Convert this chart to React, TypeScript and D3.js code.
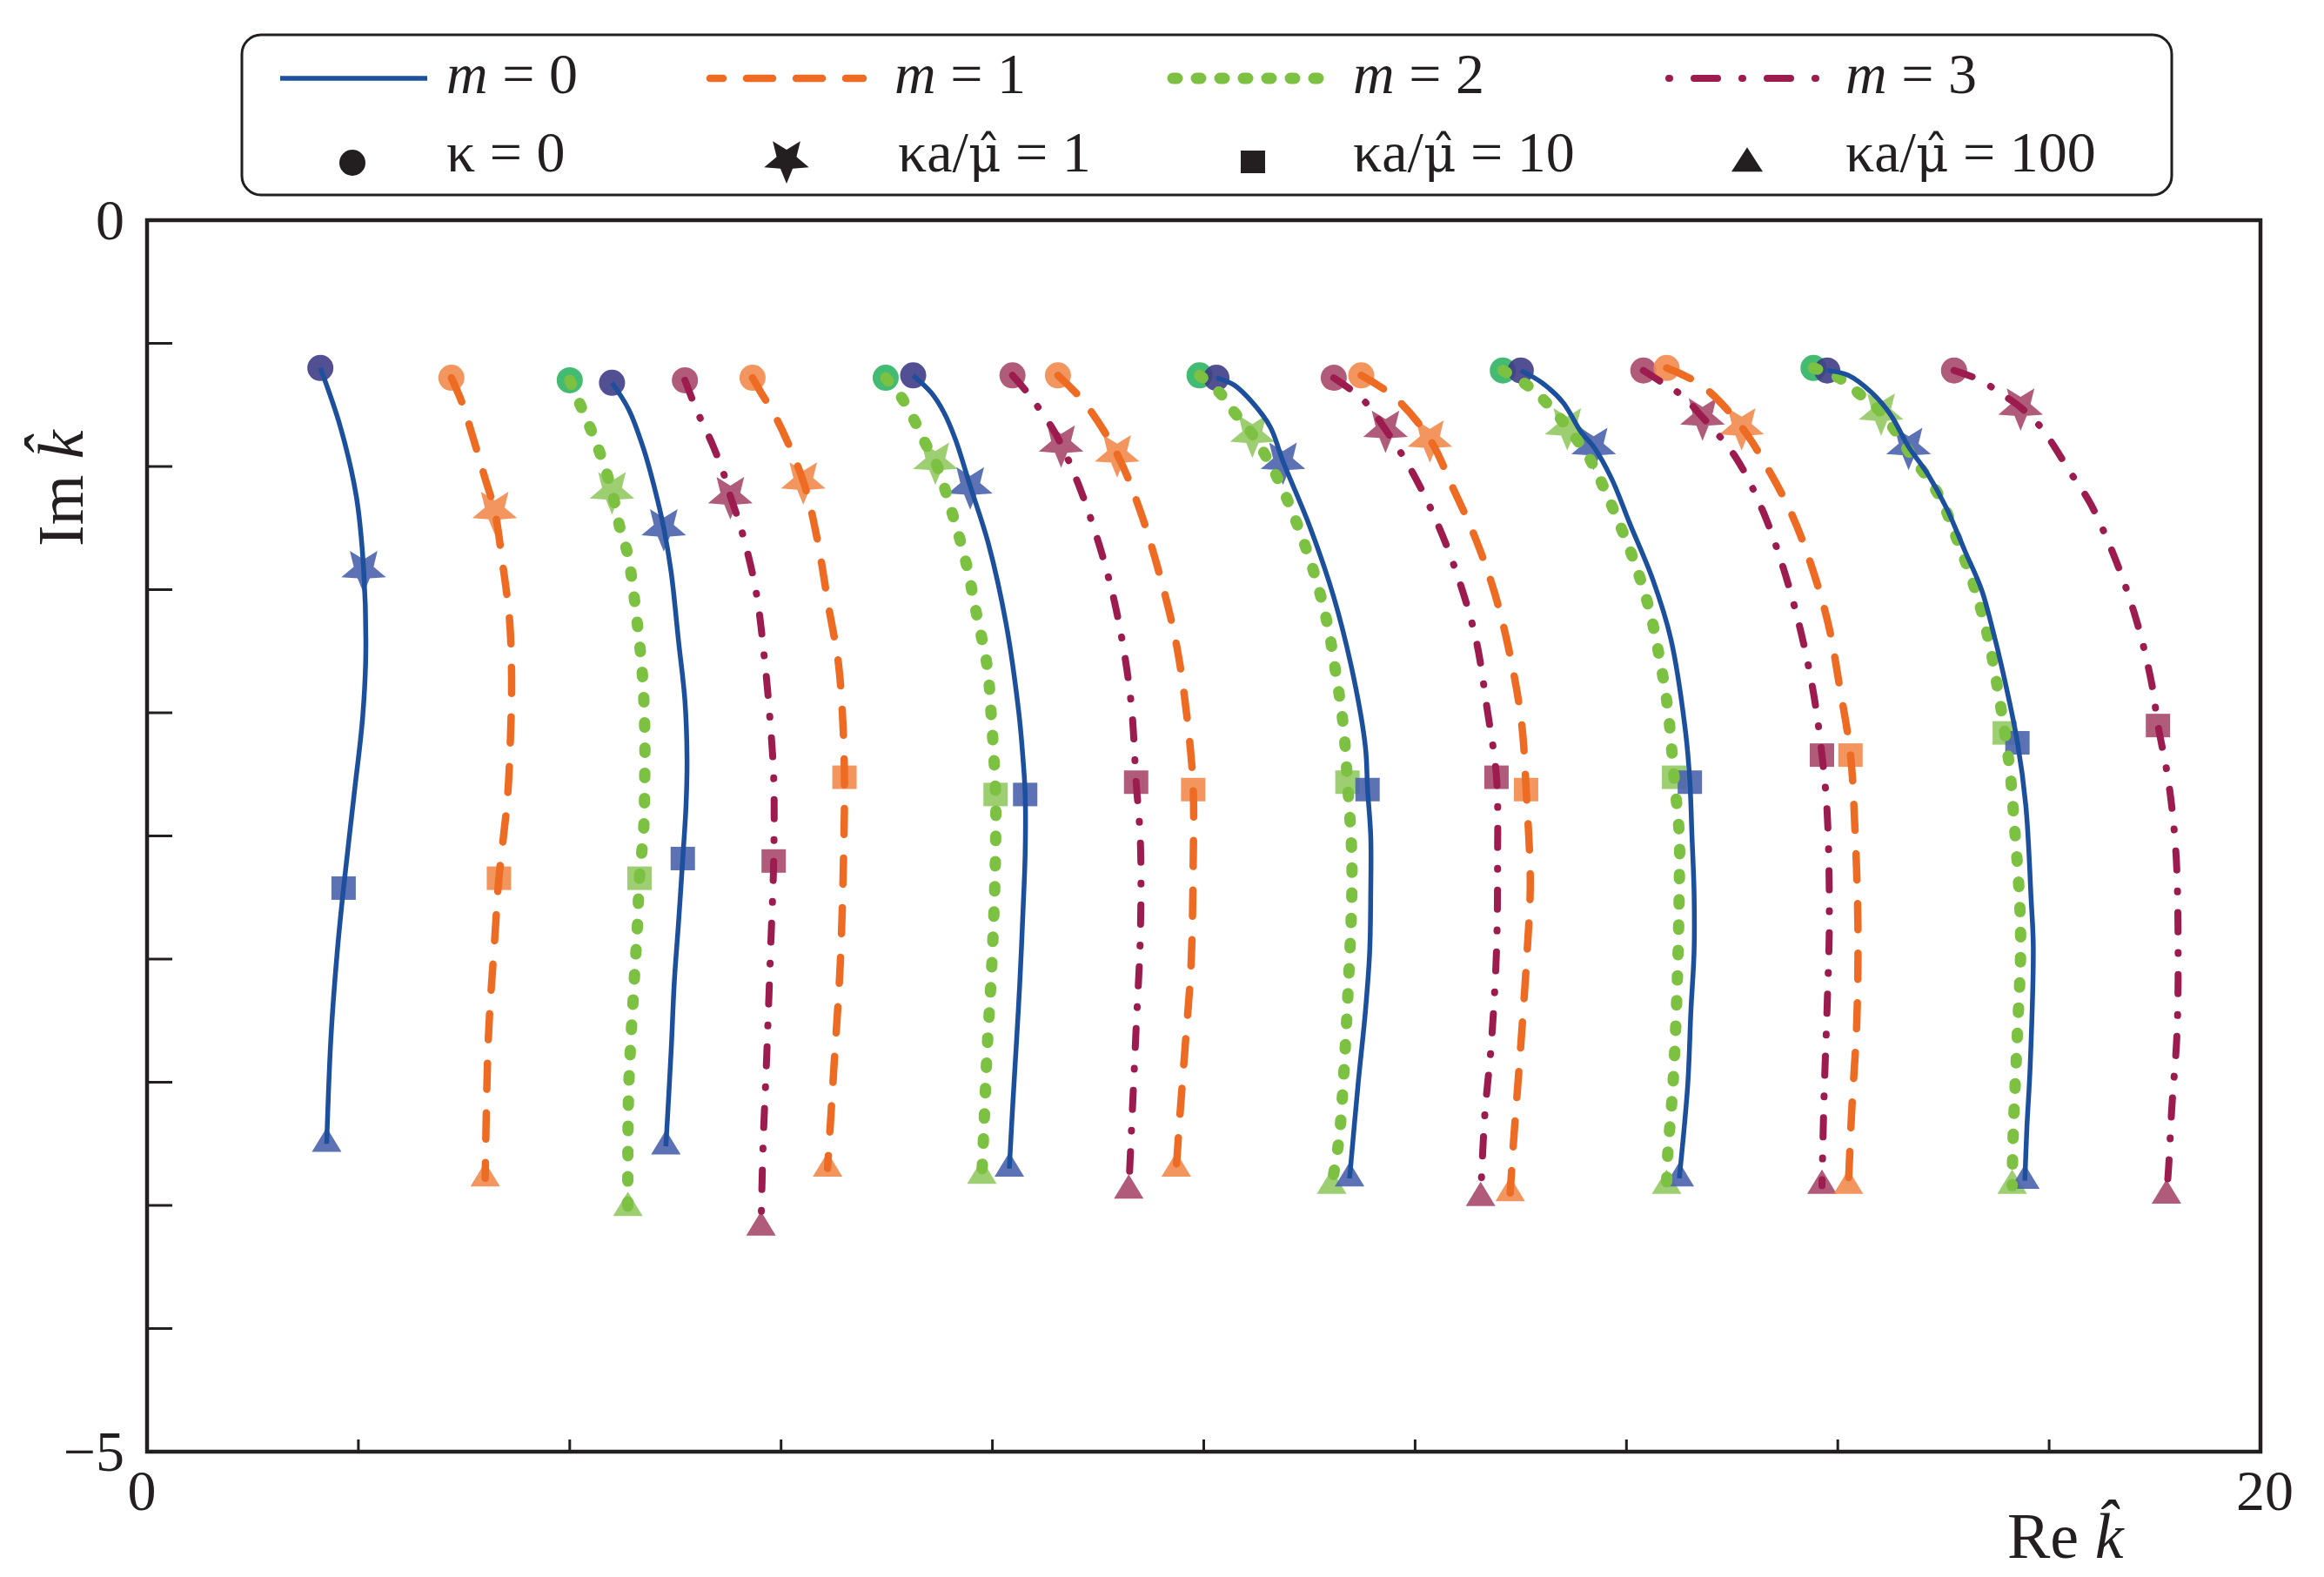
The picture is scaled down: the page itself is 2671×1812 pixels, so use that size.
import React, { useEffect } from 'react';
import * as d3 from 'd3';

// azimuthal mode number of each branch, left to right
const branchM = [0, 1, 2, 0, 3, 1, 2, 0, 3, 1, 2, 0, 3, 1, 2, 0, 3, 1, 2, 0, 3];

// root trajectories (Re k, Im k); first point is kappa = 0, last is ka/mu = 100
const branchPts: [number, number][][] = [
  [[1.64, -0.6], [1.83, -0.84], [1.98, -1.12], [2.05, -1.42], [2.07, -1.76], [2.04, -2.02], [1.96, -2.33], [1.86, -2.71], [1.8, -2.97], [1.74, -3.32], [1.7, -3.75]],
  [[2.88, -0.64], [2.98, -0.74], [3.09, -0.89], [3.2, -1.05], [3.29, -1.18], [3.36, -1.38], [3.43, -1.62], [3.45, -1.86], [3.44, -2.09], [3.41, -2.35], [3.33, -2.67], [3.29, -2.92], [3.23, -3.32], [3.2, -3.89]],
  [[4.0, -0.65], [4.11, -0.76], [4.2, -0.85], [4.29, -0.95], [4.4, -1.1], [4.47, -1.24], [4.55, -1.36], [4.64, -1.64], [4.69, -1.86], [4.71, -2.07], [4.71, -2.26], [4.7, -2.47], [4.66, -2.67], [4.64, -2.87], [4.61, -3.09], [4.56, -3.5], [4.55, -3.8], [4.55, -4.01]],
  [[4.4, -0.66], [4.56, -0.77], [4.7, -0.93], [4.81, -1.1], [4.89, -1.25], [4.96, -1.43], [5.03, -1.71], [5.09, -1.95], [5.11, -2.19], [5.1, -2.38], [5.07, -2.59], [5.03, -2.85], [4.99, -3.09], [4.96, -3.37], [4.91, -3.76]],
  [[5.09, -0.65], [5.21, -0.78], [5.34, -0.9], [5.45, -1.02], [5.52, -1.12], [5.62, -1.25], [5.76, -1.5], [5.85, -1.81], [5.89, -2.0], [5.93, -2.26], [5.93, -2.6], [5.9, -2.97], [5.86, -3.44], [5.83, -3.75], [5.81, -4.09]],
  [[5.73, -0.64], [5.81, -0.7], [5.95, -0.8], [6.21, -1.06], [6.34, -1.29], [6.45, -1.57], [6.54, -1.79], [6.58, -2.0], [6.6, -2.26], [6.59, -2.61], [6.56, -3.02], [6.5, -3.44], [6.44, -3.85]],
  [[6.99, -0.64], [7.14, -0.72], [7.27, -0.82], [7.37, -0.91], [7.46, -0.98], [7.62, -1.19], [7.75, -1.39], [7.85, -1.6], [7.95, -1.81], [7.99, -2.02], [8.03, -2.33], [8.03, -2.54], [8.02, -2.74], [7.99, -3.06], [7.95, -3.37], [7.92, -3.68], [7.9, -3.88]],
  [[7.25, -0.63], [7.42, -0.7], [7.54, -0.78], [7.65, -0.89], [7.79, -1.08], [7.96, -1.31], [8.13, -1.64], [8.25, -2.0], [8.29, -2.19], [8.31, -2.33], [8.31, -2.57], [8.29, -2.8], [8.26, -3.09], [8.23, -3.32], [8.19, -3.61], [8.16, -3.85]],
  [[8.19, -0.63], [8.33, -0.7], [8.56, -0.84], [8.65, -0.91], [8.83, -1.09], [9.04, -1.36], [9.19, -1.62], [9.31, -1.95], [9.36, -2.28], [9.4, -2.52], [9.4, -2.9], [9.36, -3.28], [9.31, -3.75], [9.29, -3.94]],
  [[8.62, -0.63], [8.87, -0.74], [9.18, -0.95], [9.39, -1.17], [9.57, -1.42], [9.74, -1.72], [9.85, -2.05], [9.9, -2.31], [9.9, -2.61], [9.88, -3.02], [9.83, -3.32], [9.77, -3.66], [9.74, -3.85]],
  [[9.96, -0.63], [10.15, -0.7], [10.29, -0.78], [10.46, -0.87], [10.69, -1.04], [10.88, -1.23], [11.05, -1.44], [11.17, -1.64], [11.25, -1.84], [11.32, -2.05], [11.36, -2.28], [11.4, -2.57], [11.4, -2.76], [11.37, -3.09], [11.32, -3.5], [11.28, -3.73], [11.21, -3.92]],
  [[10.12, -0.64], [10.29, -0.67], [10.46, -0.74], [10.63, -0.84], [10.75, -0.98], [11.0, -1.24], [11.23, -1.53], [11.42, -1.86], [11.53, -2.14], [11.55, -2.31], [11.58, -2.5], [11.58, -2.73], [11.57, -2.97], [11.53, -3.21], [11.46, -3.51], [11.38, -3.89]],
  [[11.23, -0.64], [11.51, -0.73], [11.72, -0.85], [11.97, -1.02], [12.22, -1.24], [12.43, -1.48], [12.58, -1.71], [12.68, -1.98], [12.77, -2.26], [12.78, -2.61], [12.77, -2.97], [12.72, -3.35], [12.66, -3.63], [12.62, -3.97]],
  [[11.49, -0.63], [11.81, -0.72], [12.14, -0.89], [12.35, -1.08], [12.56, -1.28], [12.75, -1.51], [12.91, -1.79], [13.01, -2.05], [13.05, -2.31], [13.09, -2.69], [13.06, -2.97], [13.0, -3.35], [12.93, -3.75], [12.9, -3.95]],
  [[12.83, -0.61], [13.06, -0.67], [13.24, -0.74], [13.44, -0.84], [13.64, -0.96], [13.79, -1.09], [14.06, -1.37], [14.21, -1.57], [14.31, -1.77], [14.39, -1.98], [14.45, -2.26], [14.5, -2.5], [14.5, -2.7], [14.48, -3.11], [14.44, -3.51], [14.39, -3.8], [14.38, -3.92]],
  [[13.0, -0.61], [13.2, -0.66], [13.4, -0.74], [13.57, -0.86], [13.69, -0.92], [13.86, -1.05], [14.03, -1.23], [14.25, -1.46], [14.42, -1.7], [14.56, -2.08], [14.6, -2.28], [14.62, -2.5], [14.64, -2.73], [14.64, -2.97], [14.61, -3.21], [14.58, -3.51], [14.5, -3.89]],
  [[14.16, -0.61], [14.34, -0.66], [14.52, -0.71], [14.72, -0.8], [15.03, -0.96], [15.29, -1.18], [15.49, -1.42], [15.65, -1.67], [15.77, -1.92], [15.85, -2.17], [15.9, -2.41], [15.92, -2.85], [15.9, -3.18], [15.87, -3.56], [15.85, -3.92]],
  [[14.38, -0.6], [14.71, -0.67], [15.09, -0.84], [15.34, -1.01], [15.56, -1.19], [15.74, -1.39], [15.91, -1.64], [16.02, -1.9], [16.12, -2.17], [16.16, -2.45], [16.19, -2.85], [16.18, -3.25], [16.13, -3.63], [16.1, -3.92]],
  [[15.77, -0.6], [16.01, -0.64], [16.19, -0.7], [16.41, -0.78], [16.72, -0.97], [16.96, -1.12], [17.14, -1.31], [17.3, -1.5], [17.43, -1.71], [17.52, -1.92], [17.58, -2.08], [17.63, -2.24], [17.67, -2.45], [17.72, -2.76], [17.73, -2.97], [17.7, -3.3], [17.66, -3.71], [17.65, -3.92]],
  [[15.9, -0.61], [16.1, -0.63], [16.32, -0.7], [16.5, -0.79], [16.67, -0.92], [16.85, -1.03], [17.03, -1.17], [17.2, -1.34], [17.36, -1.5], [17.47, -1.67], [17.56, -1.83], [17.7, -2.12], [17.78, -2.38], [17.83, -2.76], [17.85, -2.95], [17.82, -3.44], [17.79, -3.68], [17.77, -3.9]],
  [[17.1, -0.61], [17.35, -0.65], [17.53, -0.7], [17.73, -0.76], [17.92, -0.84], [18.21, -1.03], [18.39, -1.15], [18.63, -1.38], [18.83, -1.63], [18.97, -1.88], [19.03, -2.05], [19.13, -2.28], [19.2, -2.57], [19.22, -2.92], [19.21, -3.3], [19.16, -3.61], [19.13, -3.85], [19.11, -3.96]],
];

// ka/mu = 1 and ka/mu = 10 positions on each branch
const starPts: [number, number][] = [
  [2.05, -1.42], [3.29, -1.18], [4.4, -1.1], [4.89, -1.25], [5.52, -1.12], [6.21, -1.06], [7.46, -0.98],
  [7.79, -1.08], [8.65, -0.91], [9.18, -0.95], [10.46, -0.87], [10.75, -0.98], [11.72, -0.85], [12.14, -0.89],
  [13.44, -0.84], [13.69, -0.92], [14.72, -0.8], [15.09, -0.84], [16.41, -0.78], [16.67, -0.92], [17.73, -0.76],
];
const squarePts: [number, number][] = [
  [1.86, -2.71], [3.33, -2.67], [4.66, -2.67], [5.07, -2.59], [5.93, -2.6], [6.6, -2.26], [8.03, -2.33],
  [8.31, -2.33], [9.36, -2.28], [9.9, -2.31], [11.36, -2.28], [11.55, -2.31], [12.77, -2.26], [13.05, -2.31],
  [14.45, -2.26], [14.6, -2.28], [15.85, -2.17], [16.12, -2.17], [17.58, -2.08], [17.7, -2.12], [19.03, -2.05],
];

const xTicks = [0, 2, 4, 6, 8, 10, 12, 14, 16, 18, 20];
const yTicks = [0, -0.5, -1, -1.5, -2, -2.5, -3, -3.5, -4, -4.5, -5];
const xTickLabels = [0, 20];
const yTickLabels = [0, -5];

const mLabels = ['0', '1', '2', '3'];
const kappaLabels = ['1', '10', '100'];

const lineColors = ['#1c4f9c', '#ee6b24', '#7dc143', '#9c1c4f'];
const markerColors = ['#4a63ad', '#f28a4c', '#93c963', '#a8496b'];
const circleColors = ['#3f3c86', '#f28a4c', '#2fb463', '#a8496b'];
const lineDash = ['none', '30 27', '5 24', '22 24 1 24'];
const legendDash = ['none', '30 27', '5 22', '27 28 1 28'];
const legendDashOffset = [0, 15, 0, 55];
const lineWidth = [5.5, 8.5, 13, 8];

const serif = '"Liberation Serif", "Times New Roman", serif';
const ink = '#231f20';

function starPath(R: number, r: number, rot: number) {
  const pts: string[] = [];
  for (let i = 0; i < 10; i++) {
    const a = (rot * Math.PI) / 180 + (i * Math.PI) / 5;
    const rad = i % 2 === 0 ? R : r;
    pts.push(`${(rad * Math.sin(a)).toFixed(2)},${(-rad * Math.cos(a)).toFixed(2)}`);
  }
  return 'M' + pts.join('L') + 'Z';
}

function triPath(b: number, h: number) {
  return `M0,${(-h * 2) / 3}L${b / 2},${h / 3}L${-b / 2},${h / 3}Z`;
}

export default function App() {
  useEffect(() => {
    document.body.style.margin = '0';
  }, []);

  const W = 2671;
  const H = 1812;
  const plot = { left: 169, right: 2598, top: 253, bottom: 1668 };

  const x = d3.scaleLinear().domain([0, 20]).range([plot.left, plot.right]);
  const y = d3.scaleLinear().domain([0, -5]).range([plot.top, plot.bottom]);

  const line = d3
    .line<[number, number]>()
    .x((d) => x(d[0]))
    .y((d) => y(d[1]))
    .curve(d3.curveCatmullRom.alpha(0.5));

  const star = starPath(27, 12, 180);
  const tri = triPath(34, 28);

  // legend layout
  const legLine = [
    [322, 491],
    [816, 992],
    [1348, 1531],
    [1918, 2093],
  ];
  const legText1 = [513, 1028, 1555, 2121];
  const legMark = [405, 904, 1440, 2008];
  const legText2 = [513, 1032, 1555, 2121];

  return (
    <svg width={W} height={H} style={{ display: 'block', background: '#fff' }}>
      {/* legend */}
      <rect x={278} y={40} width={2218} height={184} rx={22} ry={22} fill="#fff" stroke={ink} strokeWidth={3} />
      {mLabels.map((m, i) => (
        <g key={'lm' + i}>
          <line
            x1={legLine[i][0]}
            x2={legLine[i][1]}
            y1={90}
            y2={90}
            stroke={lineColors[i]}
            strokeWidth={lineWidth[i]}
            strokeDasharray={legendDash[i]}
            strokeDashoffset={legendDashOffset[i]}
            strokeLinecap={i === 0 ? 'butt' : 'round'}
          />
          <text x={legText1[i]} y={107} fontFamily={serif} fontSize={66} fill={ink}>
            <tspan fontStyle="italic">m</tspan>
            {' = ' + m}
          </text>
        </g>
      ))}
      <circle cx={legMark[0]} cy={187} r={15} fill={ink} />
      <path d={star} transform={`translate(${legMark[1]},184)`} fill={ink} />
      <rect x={legMark[2] - 14} y={173} width={28} height={26} fill={ink} />
      <path d={triPath(36, 28)} transform={`translate(${legMark[3]},188)`} fill={ink} />
      <text x={legText2[0]} y={197} fontFamily={serif} fontSize={66} fill={ink}>
        κ = 0
      </text>
      {kappaLabels.map((k, i) => (
        <text key={'lk' + i} x={legText2[i + 1]} y={197} fontFamily={serif} fontSize={66} fill={ink}>
          κa/
          <tspan fontFamily='"DejaVu Serif", serif' fontSize={58}>
            {'\u03bc\u0302'}
          </tspan>
          {' = ' + k}
        </text>
      ))}

      {/* markers */}
      {branchPts.map((pts, i) => {
        const m = branchM[i];
        const first = pts[0];
        const last = pts[pts.length - 1];
        return (
          <g key={'mk' + i} fillOpacity={0.9}>
            <circle cx={x(first[0])} cy={y(first[1])} r={15} fill={circleColors[m]} />
            <path d={star} transform={`translate(${x(starPts[i][0])},${y(starPts[i][1])})`} fill={markerColors[m]} />
            <rect x={x(squarePts[i][0]) - 14} y={y(squarePts[i][1]) - 13} width={28} height={27} fill={markerColors[m]} />
            <path d={tri} transform={`translate(${x(last[0])},${y(last[1])})`} fill={markerColors[m]} />
          </g>
        );
      })}

      {/* branches */}
      {branchPts.map((pts, i) => {
        const m = branchM[i];
        return (
          <path
            key={'br' + i}
            d={line(pts) || ''}
            fill="none"
            stroke={lineColors[m]}
            strokeWidth={lineWidth[m]}
            strokeDasharray={lineDash[m]}
            strokeLinecap={m === 0 ? 'butt' : 'round'}
          />
        );
      })}

      {/* axes frame and ticks */}
      {yTicks.map((t) => (
        <line key={'yt' + t} x1={plot.left} x2={plot.left + 29} y1={y(t)} y2={y(t)} stroke={ink} strokeWidth={3} />
      ))}
      {xTicks.map((t) => (
        <line key={'xt' + t} x1={x(t)} x2={x(t)} y1={plot.bottom} y2={plot.bottom - 14} stroke={ink} strokeWidth={3} />
      ))}
      <rect
        x={plot.left}
        y={plot.top}
        width={plot.right - plot.left}
        height={plot.bottom - plot.top}
        fill="none"
        stroke={ink}
        strokeWidth={4.5}
      />
      {yTickLabels.map((t) => (
        <text
          key={'yl' + t}
          x={plot.left - 26}
          y={y(t) + 22}
          textAnchor="end"
          fontFamily={serif}
          fontSize={66}
          fill={ink}
        >
          {t < 0 ? '\u2212' + Math.abs(t) : String(t)}
        </text>
      ))}
      {xTickLabels.map((t) => (
        <text key={'xl' + t} x={x(t) + (t === 0 ? -6 : 5)} y={1735} textAnchor="middle" fontFamily={serif} fontSize={66} fill={ink}>
          {String(t)}
        </text>
      ))}

      {/* axis titles */}
      <text x={2307} y={1790} fontFamily={serif} fontSize={74} fill={ink}>
        Re <tspan fontStyle="italic">{'k\u0302'}</tspan>
      </text>
      <text transform="translate(95,628) rotate(-90)" fontFamily={serif} fontSize={74} fill={ink}>
        Im <tspan fontStyle="italic">{'k\u0302'}</tspan>
      </text>
    </svg>
  );
}
